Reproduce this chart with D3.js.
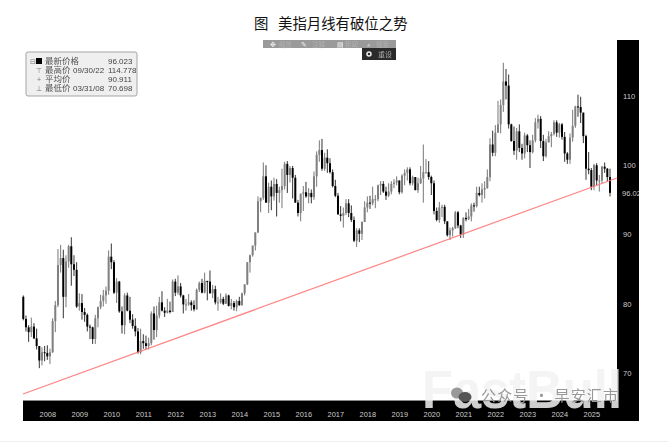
<!DOCTYPE html>
<html><head><meta charset="utf-8">
<style>html,body{margin:0;padding:0;background:#fff}svg{display:block}text{font-family:"Liberation Sans",sans-serif}</style>
<script src="https://cdn.jsdelivr.net/npm/d3@7/dist/d3.min.js"></script>
</head><body><svg id="c" width="668" height="448"></svg>
<script>
const startYear = 2007, startMonth = 8;
const yearLabels = [2008,2009,2010,2011,2012,2013,2014,2015,2016,2017,2018,2019,2020,2021,2022,2023,2024,2025];
const priceTicks = [70,80,90,100,110];
const lastPrice = 96.023;
const trendValues = [66.97,98.16];
const legendRows = [["最新价格","","96.023"],["最高价","09/30/22","114.778"],["平均价","","90.911"],["最低价","03/31/08","70.698"]];
const opens = [81.0,77.8,76.6,75.9,
76.7,75.0,73.9,71.8,73.0,72.9,72.4,73.0,77.5,79.8,85.6,86.6,
81.0,86.1,88.3,85.7,84.9,79.6,80.1,78.8,78.4,76.7,76.6,74.9,
77.9,79.5,80.4,81.2,81.9,86.8,86.0,81.6,83.2,78.9,76.9,81.2,
79.0,77.7,76.8,76.0,73.0,74.6,74.3,73.9,74.3,78.6,76.2,78.3,
80.2,79.0,78.7,79.0,78.8,83.2,81.6,82.5,81.2,79.9,79.9,80.2,
79.8,79.2,82.0,83.0,81.6,83.3,83.2,81.5,82.1,80.2,80.2,80.7,
80.0,81.2,79.7,80.1,79.5,80.4,79.8,81.5,82.8,86.0,87.0,88.4,
90.3,94.8,95.3,98.4,94.6,96.9,95.5,97.3,96.0,96.4,97.0,100.2,
98.6,99.6,98.2,94.6,93.1,95.9,96.1,95.5,96.0,95.4,98.4,101.5,
102.2,99.5,101.1,100.3,99.0,97.0,95.6,92.9,92.7,93.1,94.5,93.1,
92.1,89.1,90.6,90.1,91.8,93.9,94.6,94.5,95.1,95.1,97.1,97.3,
96.2,95.6,96.2,97.3,97.5,97.8,96.1,98.5,98.9,99.4,97.4,98.3,
96.4,97.4,98.1,99.0,99.0,98.3,97.4,93.4,92.1,93.9,94.0,91.9,
89.9,90.6,90.9,93.2,91.3,90.0,92.4,92.2,92.6,94.2,94.1,96.0,
95.7,96.5,96.7,98.3,103.0,101.8,104.7,105.9,108.7,112.1,111.5,105.9,
103.5,102.1,104.9,102.5,101.7,104.3,102.9,101.9,103.6,106.2,106.7,103.5,
101.3,103.3,104.2,104.5,106.2,104.7,105.9,104.1,101.7,100.8,104.0,105.7,
108.5,108.4,107.6,104.2,99.5,99.3,96.9,100.0,97.8,97.8,99.8,99.5,
98.3];
const highs = [81.2,78.3,76.9,78.0,
77.2,76.4,73.9,73.7,73.9,74.0,73.5,77.9,80.4,87.9,88.5,87.8,
87.0,88.5,89.6,87.0,86.0,81.5,81.4,79.4,78.6,77.0,76.7,78.4,
79.6,81.3,82.0,82.5,87.7,88.7,86.3,83.7,83.3,79.6,81.5,81.6,
81.0,78.5,77.9,76.5,76.4,75.6,75.4,75.1,78.9,79.6,79.7,81.0,
81.8,79.5,80.7,80.3,83.5,83.6,84.1,83.0,81.3,80.7,81.4,80.5,
80.5,82.2,83.2,83.6,84.5,83.3,84.8,82.7,82.6,81.0,81.5,81.0,
81.5,81.3,80.7,80.4,80.6,81.0,81.6,82.8,86.0,87.1,88.4,90.3,
95.5,95.3,100.4,100.0,97.5,97.8,98.2,98.0,96.9,99.5,100.5,100.6,
99.9,99.9,98.6,95.0,95.9,97.0,97.6,96.7,96.5,99.1,102.0,103.6,
103.8,101.8,102.3,101.0,99.4,97.9,96.0,94.1,93.9,95.1,95.1,94.2,
92.6,90.9,90.9,91.9,94.8,95.5,95.6,96.9,95.7,97.2,97.7,97.7,
96.9,97.4,97.7,98.0,98.4,97.8,98.7,99.4,99.7,99.7,98.5,98.3,
98.2,99.9,103.0,100.9,100.6,98.5,97.8,93.9,94.7,94.3,94.3,91.9,
91.0,91.1,93.4,93.4,91.4,92.5,93.2,93.7,94.5,94.6,96.9,96.9,
97.4,97.7,99.4,103.9,105.0,105.8,109.3,109.5,114.8,113.9,113.1,106.0,
105.6,105.4,105.9,103.1,104.7,104.5,103.6,104.4,106.8,107.3,107.1,104.4,
103.8,104.9,104.8,106.5,106.5,106.1,106.1,104.8,101.9,104.6,108.0,108.6,
110.2,109.9,107.6,104.4,101.9,99.6,100.2,100.3,98.6,99.9,100.4,99.6,
99.5];
const lows = [77.6,76.0,74.5,75.2,
74.9,73.4,70.7,71.1,71.7,71.9,71.3,72.9,75.9,79.5,84.5,77.9,
79.5,85.2,82.6,84.0,79.4,79.0,77.7,77.4,76.0,74.9,74.2,74.2,
76.6,79.2,79.6,80.0,81.3,85.0,81.4,80.1,78.7,75.7,75.6,78.9,
77.2,76.4,75.3,72.8,72.7,73.5,73.4,73.4,74.0,74.8,75.2,77.9,
78.9,78.1,78.6,78.6,78.8,81.1,81.3,80.9,78.6,79.0,79.7,79.0,
78.9,79.1,81.7,81.5,81.5,80.5,81.5,80.8,79.9,79.0,80.0,79.8,
80.0,79.6,79.2,79.0,78.9,79.7,79.7,81.2,82.7,84.5,86.8,87.7,
90.2,93.2,95.0,94.6,93.1,93.5,94.9,92.6,94.6,93.8,96.5,96.0,
97.5,95.2,94.6,92.6,91.9,93.4,95.3,94.5,94.5,95.0,96.9,100.5,
99.2,99.2,98.9,98.8,96.8,95.4,92.9,91.9,91.0,92.8,92.5,91.8,
88.9,88.2,88.9,89.2,91.8,93.2,93.7,94.2,93.8,94.8,95.7,96.0,
95.0,95.4,95.8,96.7,97.1,95.8,95.9,97.1,97.8,97.1,97.1,96.4,
96.0,97.3,94.6,98.8,97.9,95.7,92.9,91.9,91.7,92.5,91.5,89.7,
89.2,89.7,90.8,90.9,89.5,89.5,91.9,92.1,91.9,93.3,93.9,95.5,
94.6,95.2,96.6,97.7,101.3,101.3,104.7,104.6,107.7,109.5,105.3,103.4,
101.5,100.8,101.9,100.8,101.0,101.9,99.6,101.7,103.3,105.3,102.5,100.6,
101.1,103.3,102.6,104.3,104.1,104.0,103.7,100.5,100.2,100.2,103.4,105.4,
107.0,106.1,103.2,97.9,98.7,96.4,96.4,97.1,96.2,97.4,98.9,97.7,
95.5];
const closes = [77.8,76.6,75.9,76.7,
75.0,73.9,71.8,73.0,72.9,72.4,73.0,77.5,79.8,85.6,86.6,81.0,
86.1,88.3,85.7,84.9,79.6,80.1,78.8,78.4,76.7,76.6,74.9,77.9,
79.5,80.4,81.2,81.9,86.8,86.0,81.6,83.2,78.9,76.9,81.2,79.0,
77.7,76.8,76.0,73.0,74.6,74.3,73.9,74.3,78.6,76.2,78.3,80.2,
79.0,78.7,79.0,78.8,83.2,81.6,82.5,81.2,79.9,79.9,80.2,79.8,
79.2,82.0,83.0,81.6,83.3,83.2,81.5,82.1,80.2,80.2,80.7,80.0,
81.2,79.7,80.1,79.5,80.4,79.8,81.5,82.8,86.0,87.0,88.4,90.3,
94.8,95.3,98.4,94.6,96.9,95.5,97.3,96.0,96.4,97.0,100.2,98.6,
99.6,98.2,94.6,93.1,95.9,96.1,95.5,96.0,95.4,98.4,101.5,102.2,
99.5,101.1,100.3,99.0,97.0,95.6,92.9,92.7,93.1,94.5,93.1,92.1,
89.1,90.6,90.1,91.8,93.9,94.6,94.5,95.1,95.1,97.1,97.3,96.2,
95.6,96.2,97.3,97.5,97.8,96.1,98.5,98.9,99.4,97.4,98.3,96.4,
97.4,98.1,99.0,99.0,98.3,97.4,93.4,92.1,93.9,94.0,91.9,89.9,
90.6,90.9,93.2,91.3,90.0,92.4,92.2,92.6,94.2,94.1,96.0,95.7,
96.5,96.7,98.3,103.0,101.8,104.7,105.9,108.7,112.1,111.5,105.9,103.5,
102.1,104.9,102.5,101.7,104.3,102.9,101.9,103.6,106.2,106.7,103.5,101.3,
103.3,104.2,104.5,106.2,104.7,105.9,104.1,101.7,100.8,104.0,105.7,108.5,
108.4,107.6,104.2,99.5,99.3,96.9,100.0,97.8,97.8,99.8,99.5,98.3,
96.02];

const months = closes.map((_,i)=>{const t=startYear*12+startMonth+i;return Math.floor(t/12)+"-"+String(t%12+1).padStart(2,"0");});
const svg = d3.select("#c");
const x = d3.scalePoint().domain(months).range([23.3,610]);
const y = d3.scaleLinear().domain([70,110]).range([373,96]);
const plot = {l:23,r:617,t:40,b:401,axisR:639,axisB:421};

// title
const title = svg.append("text").attr("y",29).attr("fill","#111").style("font-family","'Noto Sans CJK SC'").style("font-size","14.4px");
title.append("tspan").attr("x",254).text("图");
title.append("tspan").attr("x",278).text("美指月线有破位之势");

// black axis frames
svg.append("rect").attr("x",plot.r).attr("y",plot.t).attr("width",plot.axisR-plot.r).attr("height",plot.axisB-plot.t).attr("fill","#000");
svg.append("rect").attr("x",plot.l).attr("y",plot.b).attr("width",plot.axisR-plot.l).attr("height",plot.axisB-plot.b).attr("fill","#000");
svg.append("line").attr("x1",plot.l).attr("x2",plot.r).attr("y1",plot.b-.5).attr("y2",plot.b-.5).attr("stroke","#888");

// candles
const g = svg.append("g").style("filter","blur(0.6px)");
const idx = d3.range(months.length);
const isUp = i=>closes[i]>=opens[i];
g.selectAll(".wick").data(idx).join("line").attr("class","wick")
 .attr("x1",i=>x(months[i])).attr("x2",i=>x(months[i]))
 .attr("y1",i=>y(highs[i])).attr("y2",i=>y(lows[i]))
 .attr("stroke",i=>isUp(i)?"#777":"#333").attr("stroke-width",1);
g.selectAll(".body").data(idx).join("rect").attr("class","body")
 .attr("x",i=>x(months[i])-1).attr("width",2)
 .attr("y",i=>y(Math.max(opens[i],closes[i])))
 .attr("height",i=>Math.max(1,Math.abs(y(opens[i])-y(closes[i]))))
 .attr("fill",i=>isUp(i)?"#808080":"#000");

// trend line
svg.append("line").attr("x1",plot.l).attr("x2",plot.r)
 .attr("y1",y(trendValues[0])).attr("y2",y(trendValues[1]))
 .attr("stroke","#f77").attr("stroke-width",1.2).style("opacity",.9);

// axes
const yAxis = d3.axisRight(y).tickValues(priceTicks).tickSize(0).tickPadding(6);
const ya = svg.append("g").attr("transform",`translate(${plot.r},0)`).call(yAxis);
ya.select(".domain").remove();
ya.selectAll("text").attr("fill","#ccc").style("font-size","7.6px");
svg.append("clipPath").attr("id","rc").append("rect").attr("x",plot.r).attr("y",plot.t).attr("width",plot.axisR-plot.r).attr("height",plot.axisB-plot.t);
svg.append("text").attr("x",622).attr("y",y(lastPrice)+3).attr("clip-path","url(#rc)").attr("fill","#ccc").style("font-size","7.6px").text(lastPrice.toFixed(3));

const xAxis = d3.axisBottom(x).tickValues(yearLabels.map(v=>v+"-06")).tickFormat(d=>d.slice(0,4)).tickSize(0).tickPadding(11);
const xa = svg.append("g").attr("transform",`translate(0,${plot.b})`).call(xAxis);
xa.select(".domain").remove();
xa.selectAll("text").attr("fill","#ccc").style("font-size","7.4px");

// legend
const lg = svg.append("g").style("filter","blur(0.3px)");
lg.append("rect").attr("x",26).attr("y",52).attr("width",111).attr("height",44).attr("rx",2).attr("fill","#efefef").attr("stroke","#a5a5a5").attr("stroke-width",1);
lg.append("rect").attr("x",36).attr("y",58).attr("width",6).attr("height",6).attr("fill","#000");
const glyphs = ["⊟","⊤","+","⊥"];
legendRows.forEach((r,i)=>{
  const yy = 64+i*9;
  lg.append("text").attr("x",i?39:30).attr("y",yy).attr("fill","#777").attr("text-anchor",i?"middle":"start").style("font-size","7px").text(glyphs[i]);
  lg.append("text").attr("x",45).attr("y",yy).attr("fill","#555").style("font-family","'Noto Sans CJK SC'").style("font-size","8.5px").text(r[0]);
  lg.append("text").attr("x",73).attr("y",yy).attr("fill","#444").style("font-size","8px").text(r[1]);
  lg.append("text").attr("x",108).attr("y",yy).attr("fill","#444").style("font-size","8px").text(r[2]);
});

// toolbar
const tb = svg.append("g").style("filter","blur(0.5px)");
tb.append("rect").attr("x",263).attr("y",40).attr("width",133).attr("height",8).attr("fill","#9a9a9a");
tb.append("rect").attr("x",362).attr("y",48).attr("width",34).attr("height",12).attr("fill","#2a2a2a");
[["✥",270],["✎",301],["▤",337],["⌕",367]].forEach(d=>tb.append("text").attr("x",d[1]).attr("y",47).attr("fill","#eee").style("font-family","'DejaVu Sans'").style("font-size","7px").text(d[0]));
[["缩放",279],["注释",312],["新闻",345],["搜索",376]].forEach(d=>tb.append("text").attr("x",d[1]).attr("y",46.5).attr("fill","#b0b0b0").style("font-family","'Noto Sans CJK SC'").style("font-size","6.5px").text(d[0]));
tb.append("circle").attr("cx",369).attr("cy",54).attr("r",2).attr("fill","none").attr("stroke","#eee").attr("stroke-width",1.5);
tb.append("text").attr("x",378).attr("y",57).attr("fill","#aaa").style("font-family","'Noto Sans CJK SC'").style("font-size","7px").text("重设");

// watermark
const wm = svg.append("g").style("filter","blur(0.7px)");
wm.append("text").attr("x",422).attr("y",408).attr("textLength",200).attr("lengthAdjust","spacingAndGlyphs").attr("fill","#f2f2f2").attr("fill-opacity",.85).style("font-weight","bold").style("font-size","54px").text("FastBull");
wm.append("ellipse").attr("cx",457).attr("cy",393).attr("rx",6).attr("ry",5.5).attr("fill","#999");
wm.append("ellipse").attr("cx",465).attr("cy",397).attr("rx",6.5).attr("ry",5).attr("fill","#555");
wm.append("text").attr("x",481).attr("y",401).attr("textLength",137).attr("fill","#999").style("font-family","'Noto Sans CJK SC'").style("font-size","15px").text("公众号 · 早安汇市");

// page divider
svg.append("line").attr("x1",0).attr("x2",668).attr("y1",441.5).attr("y2",441.5).attr("stroke","#eee");
</script></body></html>
